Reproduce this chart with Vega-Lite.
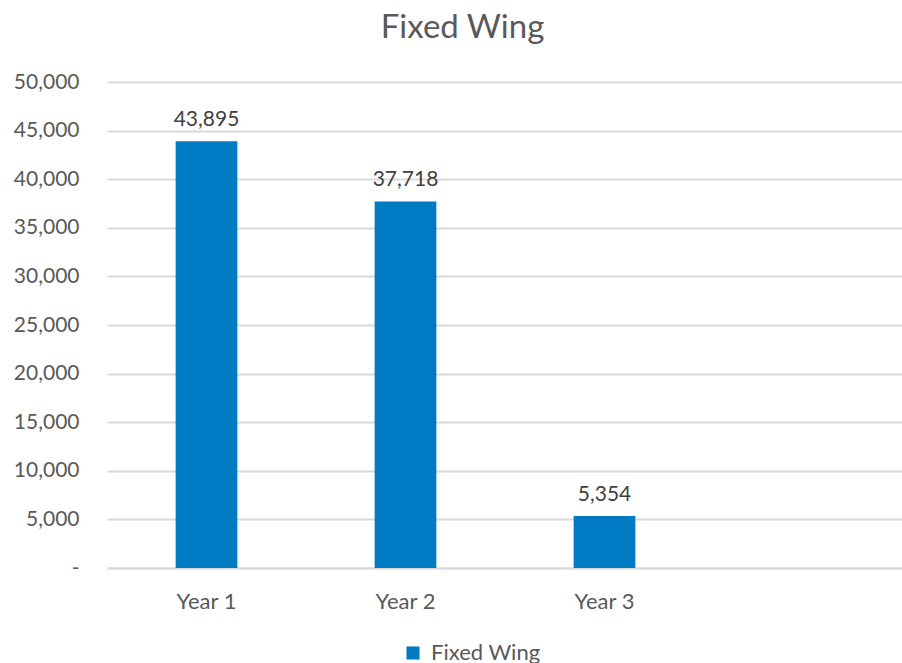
{
  "$schema": "https://vega.github.io/schema/vega-lite/v6.json",
  "width": 795,
  "height": 486,
  "autosize": "none",
  "padding": {"left": 107, "top": 82, "right": 0, "bottom": 95},
  "background": "white",
  "config": {
    "font": "Lato",
    "view": {"stroke": null}
  },
  "title": {
    "text": "Fixed Wing",
    "fontSize": 33,
    "font": "Lato",
    "fontWeight": "normal",
    "color": "#595959",
    "anchor": "middle",
    "dx": -42,
    "offset": 26
  },
  "data": {
    "values": [
      {"year": "Year 1", "value": 43895, "series": "Fixed Wing"},
      {"year": "Year 2", "value": 37718, "series": "Fixed Wing"},
      {"year": "Year 3", "value": 5354, "series": "Fixed Wing"}
    ]
  },
  "encoding": {
    "x": {
      "field": "year",
      "type": "nominal",
      "scale": {"domain": ["Year 1", "Year 2", "Year 3", " "], "range": [0, 796], "paddingInner": 0.69, "paddingOuter": 0.345},
      "axis": {
        "title": null,
        "labelAngle": 0,
        "labelFontSize": 22,
        "labelColor": "#595959",
        "labelPadding": 23,
        "ticks": false,
        "domainColor": "#D9D9D9",
        "domainWidth": 2,
        "grid": false
      }
    },
    "y": {
      "field": "value",
      "type": "quantitative",
      "scale": {"domain": [0, 50000], "nice": false},
      "axis": {
        "title": null,
        "values": [0, 5000, 10000, 15000, 20000, 25000, 30000, 35000, 40000, 45000, 50000],
        "labelExpr": "datum.value == 0 ? '-' : format(datum.value, ',')",
        "labelFontSize": 21,
        "labelColor": "#595959",
        "labelPadding": 28,
        "ticks": false,
        "domain": false,
        "gridColor": "#D9D9D9",
        "gridWidth": 2
      }
    }
  },
  "layer": [
    {
      "mark": {"type": "bar", "color": "#007AC2"},
      "encoding": {
        "color": {
          "field": "series",
          "type": "nominal",
          "scale": {"range": ["#007AC2"]},
          "legend": {
            "title": null,
            "orient": "none",
            "legendX": 295,
            "legendY": 560,
            "symbolType": "square",
            "symbolSize": 170,
            "labelFontSize": 22,
            "labelColor": "#595959",
            "labelOffset": 7
          }
        }
      }
    },
    {
      "mark": {"type": "text", "baseline": "bottom", "dy": -11, "fontSize": 21, "color": "#404040"},
      "encoding": {
        "text": {"field": "value", "type": "quantitative", "format": ","}
      }
    }
  ]
}
